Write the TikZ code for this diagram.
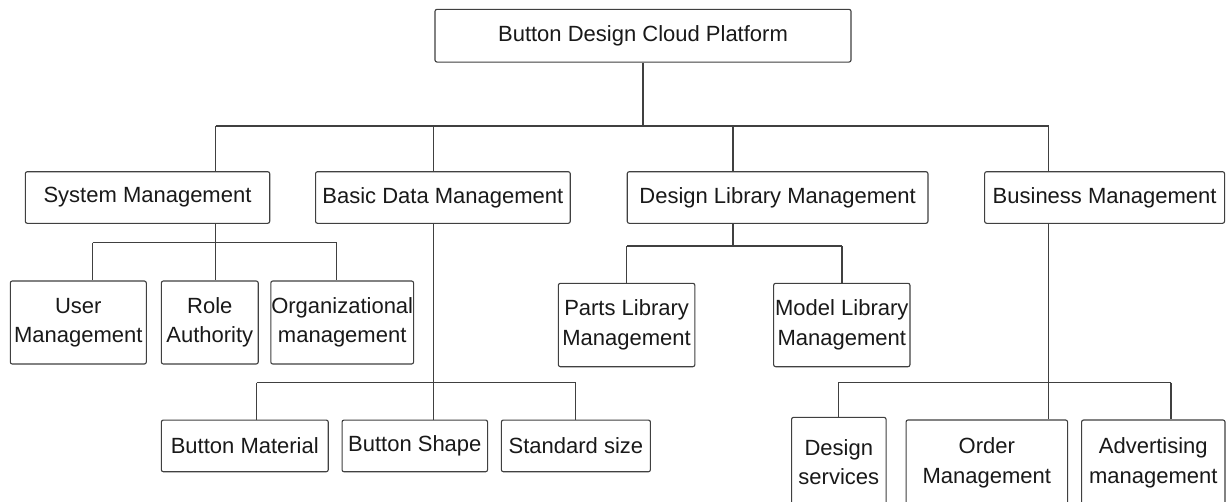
\documentclass[tikz,border=0pt]{standalone}
\usepackage{fontspec}
\setmainfont{Liberation Sans}
\begin{document}
\begin{tikzpicture}[x=1pt,y=-1pt,
  box/.style={draw=black!75, line width=1.1pt, rounded corners=2pt, inner sep=0pt,
    align=center, font=\fontsize{22}{29.5}\selectfont, text=black!90},
  link/.style={draw=black!75, line width=1.1pt}]
\useasboundingbox (0,0) rectangle (1227,501);
\clip (0,0) rectangle (1227,501);
\fill[white] (0,0) rectangle (1227,501);
% root
\node[box, minimum width=416pt, minimum height=52.7pt] (root) at (643,35.7) {Button Design Cloud Platform};
% level 1
\node[box, minimum width=244.4pt, minimum height=51.6pt] (sys) at (147.5,197.5) {System Management};
\node[box, minimum width=254.7pt, minimum height=51.6pt] (basic) at (442.9,197.5) {Basic Data Management};
\node[box, minimum width=300.7pt, minimum height=51.6pt] (dlib) at (777.6,197.5) {Design Library Management};
\node[box, minimum width=239.9pt, minimum height=51.6pt] (busm) at (1104.6,197.5) {Business Management};
% system children
\node[box, minimum width=136pt, minimum height=83pt] (user) at (78.3,322.5) {User\\Management};
\node[box, minimum width=96.9pt, minimum height=83pt] (role) at (209.8,322.5) {Role\\Authority};
\node[box, minimum width=142.8pt, minimum height=83pt] (org) at (342.2,322.5) {Organizational\\management};
% design library children
\node[box, minimum width=136.5pt, minimum height=83.4pt] (parts) at (626.6,325) {Parts Library\\Management};
\node[box, minimum width=136.3pt, minimum height=83.4pt] (model) at (841.8,325) {Model Library\\Management};
% basic children
\node[box, minimum width=166.9pt, minimum height=51.7pt] (mat) at (244.8,445.9) {Button Material};
\node[box, minimum width=145.5pt, minimum height=51.7pt] (shape) at (414.8,445.9) {Button Shape};
\node[box, minimum width=149pt, minimum height=51.7pt] (std) at (575.9,445.9) {Standard size};
% business children
\node[box, minimum width=94.5pt, minimum height=89.7pt] (dserv) at (838.8,462.2) {Design\\services};
\node[box, minimum width=161.5pt, minimum height=86pt] (order) at (986.8,463) {Order\\Management};
\node[box, minimum width=143.4pt, minimum height=86pt] (adv) at (1153.3,463) {Advertising\\management};
% top bus
\coordinate (bA) at (215.5,126);
\coordinate (bB) at (433.8,126);
\coordinate (bC) at (733,126);
\coordinate (bD) at (1048.6,126);
\draw[link] (root.south) -- (root.south |- bA);
\draw[link] (bA) -- (bD);
\draw[link] (bA) -- (bA |- sys.north);
\draw[link] (bB) -- (bB |- basic.north);
\draw[link] (bC) -- (bC |- dlib.north);
\draw[link] (bD) -- (bD |- busm.north);
% system sub bus
\coordinate (sA) at (92.5,242.7);
\coordinate (sB) at (215.5,242.7);
\coordinate (sC) at (336.9,242.7);
\draw[link] (sB |- sys.south) -- (sB);
\draw[link] (sA) -- (sC);
\draw[link] (sA) -- (sA |- user.north);
\draw[link] (sB) -- (sB |- role.north);
\draw[link] (sC) -- (sC |- org.north);
% design library sub bus
\coordinate (lA) at (626.8,246);
\coordinate (lB) at (733,246);
\coordinate (lC) at (842,246);
\draw[link] (lB |- dlib.south) -- (lB);
\draw[link] (lA) -- (lC);
\draw[link] (lA) -- (lA |- parts.north);
\draw[link] (lC) -- (lC |- model.north);
% basic sub bus
\coordinate (cA) at (256.6,382.7);
\coordinate (cB) at (433.8,382.7);
\coordinate (cC) at (575.7,382.7);
\draw[link] (cB |- basic.south) -- (cB |- shape.north);
\draw[link] (cA) -- (cC);
\draw[link] (cA) -- (cA |- mat.north);
\draw[link] (cC) -- (cC |- std.north);
% business sub bus
\coordinate (eA) at (838.3,382.7);
\coordinate (eB) at (1048.6,382.7);
\coordinate (eC) at (1171,382.7);
\draw[link] (eB |- busm.south) -- (eB |- order.north);
\draw[link] (eA) -- (eC);
\draw[link] (eA) -- (eA |- dserv.north);
\draw[link] (eC) -- (eC |- adv.north);
\end{tikzpicture}
\end{document}
